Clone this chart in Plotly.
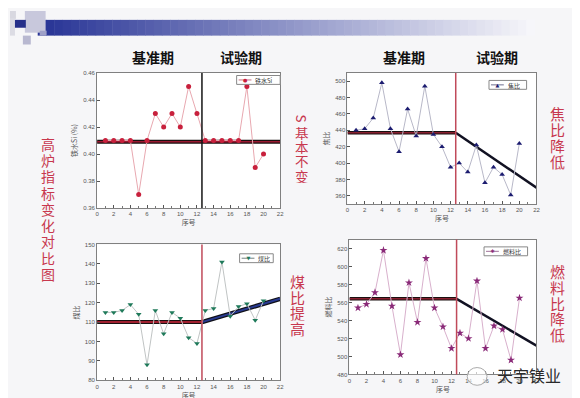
import plotly.graph_objects as go

W, H = 580, 398

# ---------------- data ----------------
seq = list(range(1, 21))
si_vals = [0.41, 0.41, 0.41, 0.41, 0.37, 0.41, 0.43, 0.42, 0.43, 0.42,
           0.45, 0.43, 0.41, 0.41, 0.41, 0.41, 0.41, 0.45, 0.39, 0.40]
coke_vals = [440, 442, 455, 498, 442, 414, 466, 433, 494, 435,
             420, 395, 400, 389, 422, 376, 395, 386, 361, 424]
coal_vals = [115, 115, 116, 119, 114, 88, 116, 104, 115, 112,
             102, 99, 116, 117, 141, 113, 118, 119.5, 111, 121]
fuel_vals = [554, 558, 571, 618, 556, 502, 582, 538, 609, 554,
             533, 509, 526, 520, 584, 509, 534, 530, 496, 565]

split_x = 12.6
si_trend_x, si_trend_y = [0, 22], [0.409, 0.409]
coke_base_x, coke_base_y = [0, split_x], [437, 437]
coke_test_x, coke_test_y = [split_x, 22], [437, 370]
coal_base_x, coal_base_y = [0, split_x], [110, 110]
coal_test_x, coal_test_y = [split_x, 22], [110, 122]
fuel_base_x, fuel_base_y = [0, split_x], [564, 564]
fuel_test_x, fuel_test_y = [split_x, 22], [564, 512]

x_ticks = list(range(0, 23, 2))
si_ticks = [0.36, 0.38, 0.40, 0.42, 0.44, 0.46]
si_tick_text = ["0.36", "0.38", "0.40", "0.42", "0.44", "0.46"]
coke_ticks = list(range(360, 501, 20))
coal_ticks = list(range(80, 151, 10))
fuel_ticks = list(range(480, 621, 20))

period_labels = ["基准期", "试验期"]
series_names = ["铁水Si", "焦比", "煤比", "燃料比"]
axis_titles_y = ["铁水Si (%)", "焦比", "煤比", "燃料比"]
x_title = "序号"

# ---------------- figure ----------------
fig = go.Figure()

def px_dom_x(a, b):
    return [a / W, b / W]

def px_dom_y(top, bottom):
    return [1 - bottom / H, 1 - top / H]

panels = {
    1: dict(x=px_dom_x(88, 273), y=px_dom_y(63, 200), yr=[0.36, 0.46], yt=si_ticks, ytt=si_tick_text),
    2: dict(x=px_dom_x(341, 532), y=px_dom_y(63, 196), yr=[350, 510], yt=coke_ticks, ytt=None),
    3: dict(x=px_dom_x(88, 273), y=px_dom_y(237, 375), yr=[80, 150], yt=coal_ticks, ytt=None),
    4: dict(x=px_dom_x(343, 532), y=px_dom_y(232, 369), yr=[480, 630], yt=fuel_ticks, ytt=None),
}

tickfont = dict(family="Liberation Sans, Arial", size=6, color="#555")
titlefont = dict(family="Noto Sans CJK SC", size=7, color="#555")

layout_axes = {}
for i, p in panels.items():
    sx = "" if i == 1 else str(i)
    layout_axes["xaxis" + sx] = dict(
        domain=p["x"], range=[0, 22], anchor="y" + sx, tickvals=x_ticks,
        showgrid=False, zeroline=False, showline=True, linecolor="#808080", linewidth=1,
        mirror=True, ticks="inside", ticklen=3, tickcolor="#555", tickfont=tickfont,
        minor=dict(ticks="inside", ticklen=2, tickcolor="#777", dtick=1),
        title=dict(text=x_title, font=titlefont, standoff=2),
    )
    ya = dict(
        domain=p["y"], range=p["yr"], anchor="x" + sx, tickvals=p["yt"],
        showgrid=False, zeroline=False, showline=True, linecolor="#808080", linewidth=1,
        mirror=True, ticks="inside", ticklen=3, tickcolor="#555", tickfont=tickfont,
        title=dict(text=axis_titles_y[i - 1], font=titlefont, standoff=4),
    )
    if p["ytt"] is not None:
        ya["ticktext"] = p["ytt"]
    layout_axes["yaxis" + sx] = ya

def add_series(i, xs, ys, name, mcolor, msym, msize, lcolor):
    sx = "" if i == 1 else str(i)
    fig.add_trace(go.Scatter(
        x=xs, y=ys, mode="lines+markers", name=name,
        line=dict(color=lcolor, width=1),
        marker=dict(color=mcolor, symbol=msym, size=msize),
        xaxis="x" + sx, yaxis="y" + sx, showlegend=False,
    ))

def add_line(i, xs, ys, color, width):
    sx = "" if i == 1 else str(i)
    fig.add_trace(go.Scatter(
        x=xs, y=ys, mode="lines", line=dict(color=color, width=width),
        xaxis="x" + sx, yaxis="y" + sx, showlegend=False, hoverinfo="skip",
    ))

# trend lines (under series)
add_line(1, si_trend_x, si_trend_y, "#1a1010", 4)
add_line(1, si_trend_x, si_trend_y, "#9a1830", 1.5)
add_line(2, coke_base_x, coke_base_y, "#1a1010", 3.5)
add_line(2, coke_base_x, coke_base_y, "#8a2030", 1.5)
add_line(2, coke_test_x, coke_test_y, "#111122", 2.5)
add_line(3, coal_base_x, coal_base_y, "#1a1010", 4)
add_line(3, coal_base_x, coal_base_y, "#a02030", 2)
add_line(3, coal_test_x, coal_test_y, "#101018", 4.5)
add_line(3, coal_test_x, coal_test_y, "#283a90", 2)
add_line(4, fuel_base_x, fuel_base_y, "#1a1010", 3.5)
add_line(4, fuel_base_x, fuel_base_y, "#8a2030", 1.5)
add_line(4, fuel_test_x, fuel_test_y, "#111122", 2.5)

series_styles = [
    ("#c8203c", "circle", 5, "#e8a8b0", "●", "#c87080"),
    ("#1c1c70", "triangle-up", 5, "#b8b8c8", "▲", "#707090"),
    ("#1f7a5a", "triangle-down", 5, "#c0c4c4", "▼", "#708080"),
    ("#8a2a78", "star", 6, "#d8b0cc", "✱", "#a07098"),
]
all_vals = [si_vals, coke_vals, coal_vals, fuel_vals]
for i in range(4):
    mc, ms, msz, lc, _, _ = series_styles[i]
    add_series(i + 1, seq, all_vals[i], series_names[i], mc, ms, msz, lc)

# ---------------- shapes ----------------
shapes = []
shapes.append(dict(type="line", xref="x", yref="y domain", x0=split_x, x1=split_x, y0=0, y1=1,
                   line=dict(color="#151515", width=1.5)))
for sx in ["2", "3", "4"]:
    shapes.append(dict(type="line", xref="x" + sx, yref="y" + sx + " domain", x0=split_x, x1=split_x,
                       y0=0, y1=1, line=dict(color="#c04a5a", width=1.5)))

# header gradient bar
n = 60
x_start, x_end = 28, 530
c0 = (40, 52, 150)
c1 = (246, 246, 250)
for k in range(n):
    t = k / (n - 1)
    r = int(c0[0] + (c1[0] - c0[0]) * t)
    g = int(c0[1] + (c1[1] - c0[1]) * t)
    b = int(c0[2] + (c1[2] - c0[2]) * t)
    xa = x_start + (x_end - x_start) * k / n
    xb = x_start + (x_end - x_start) * (k + 1) / n + 0.5
    shapes.append(dict(type="rect", xref="paper", yref="paper", x0=xa / W, x1=xb / W,
                       y0=1 - 25 / H, y1=1 - 9 / H, line=dict(width=0),
                       fillcolor=f"rgb({r},{g},{b})", layer="below"))
for (xa, ya, xb, yb, col) in [
    (0, 0, 6, 8, "#d8d8e0"), (15, 0, 36, 22, "#c8c8dc"), (0, 8, 5, 25, "#dcdce4"),
    (5, 9, 16, 17, "#26308a"), (13, 25, 21, 34, "#b8b8d0"), (30, 20, 37, 25, "#9ea0c8"),
]:
    shapes.append(dict(type="rect", xref="paper", yref="paper", x0=xa / W, x1=xb / W,
                       y0=1 - yb / H, y1=1 - ya / H, line=dict(width=0), fillcolor=col, layer="below"))

# watermark icon
shapes.append(dict(type="circle", xref="paper", yref="paper", x0=462 / W, x1=482 / W,
                   y0=1 - 380 / H, y1=1 - 362 / H, line=dict(color="#aaaaaa", width=1),
                   fillcolor="rgba(255,255,255,0.6)"))

# ---------------- annotations ----------------
ann = []
head_font = dict(family="Noto Sans CJK SC", size=14, color="#111")
for (x, txt) in [(144, period_labels[0]), (233, period_labels[1]),
                 (398, period_labels[0]), (492, period_labels[1])]:
    ann.append(dict(x=x / W, y=1 - 47 / H, xref="paper", yref="paper", text="<b>" + txt + "</b>",
                    showarrow=False, font=head_font, xanchor="center", yanchor="middle"))

red = "#c8384e"
def vtext(x, y0, step, txt, size, rotate_first=False):
    for k, ch in enumerate(txt):
        a = dict(x=x / W, y=1 - (y0 + k * step) / H, xref="paper", yref="paper",
                 text=ch, showarrow=False, height=step - 0.5,
                 font=dict(family="Noto Sans CJK SC", size=size, color=red),
                 xanchor="center", yanchor="middle")
        if rotate_first and k == 0:
            a["textangle"] = 90
        ann.append(a)

vtext(38, 135, 16.5, "高炉指标变化对比图", 14)
vtext(295, 109, 14.6, "S基本不变", 13.5, rotate_first=True)
vtext(553, 105, 16, "焦比降低", 15)
vtext(291, 275, 16, "煤比提高", 15)
vtext(553, 265, 16, "燃料比降低", 15)

ann.append(dict(x=524 / W, y=1 - 370 / H, xref="paper", yref="paper", text="天宇镁业",
                showarrow=False, font=dict(family="Noto Sans CJK SC", size=16, color="#2a2a2a"),
                xanchor="center", yanchor="middle"))

# legend boxes: frame rect + glyph text + name text
legend_pos = [(251, 70), (503, 75), (249, 251), (501, 244)]
legend_w = [44, 38, 34, 44]
for i in range(4):
    mc, _, _, lc, glyph, dc = series_styles[i]
    xc, yc = legend_pos[i]
    w = legend_w[i]
    x0, x1 = xc - w / 2, xc + w / 2
    shapes.append(dict(type="rect", xref="paper", yref="paper", x0=x0 / W, x1=x1 / W,
                       y0=1 - (yc + 4.5) / H, y1=1 - (yc - 4.5) / H,
                       line=dict(color="#888", width=1), fillcolor="#ffffff"))
    shapes.append(dict(type="line", xref="paper", yref="paper", x0=(x0 + 2) / W, x1=(x0 + 15) / W,
                       y0=1 - yc / H, y1=1 - yc / H, line=dict(color=dc, width=1)))
    ann.append(dict(x=(x0 + 8.5) / W, y=1 - yc / H, xref="paper", yref="paper", text=glyph,
                    showarrow=False, font=dict(family="DejaVu Sans", size=5, color=mc),
                    xanchor="center", yanchor="middle", height=8, width=7))
    ann.append(dict(x=(x0 + 17) / W, y=1 - yc / H, xref="paper", yref="paper", text=series_names[i],
                    showarrow=False, font=dict(family="Noto Sans CJK SC", size=6, color="#333"),
                    xanchor="left", yanchor="middle", height=8))

fig.update_layout(
    width=W, height=H, margin=dict(l=0, r=0, t=0, b=0),
    paper_bgcolor="#f6f6f8", plot_bgcolor="#ffffff",
    shapes=shapes, annotations=ann, showlegend=False,
    **layout_axes,
)

fig.write_html("out.html")
